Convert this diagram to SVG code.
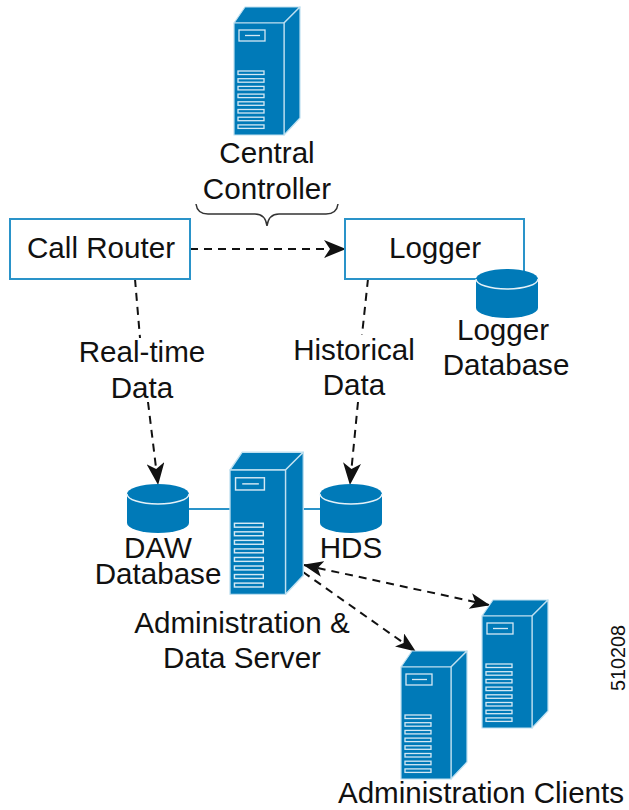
<svg xmlns="http://www.w3.org/2000/svg" width="629" height="810" viewBox="0 0 629 810">
<style>
text{font-family:"Liberation Sans",Arial,sans-serif;font-size:29.600px;fill:#111;text-anchor:middle}
.box{fill:#fff;stroke:#2a93c9;stroke-width:2}
.link{stroke:#2a93c9;stroke-width:2;fill:none}
.dash{stroke:#111;stroke-width:2;fill:none;stroke-dasharray:8 6}
.body{fill:#007ab8;stroke:#bfe0f0;stroke-width:1.200;stroke-linejoin:round}
.trim{fill:none;stroke:#d4e9f4;stroke-width:1.300}
</style>
<defs>
<symbol id="server" overflow="visible" viewBox="0 0 1 1" width="1" height="1">
<path class="body" d="M0 0L11-16H66L50 0Z"/>
<path class="body" d="M50 0L66-16V95L50 112Z"/>
<path class="body" d="M0 0H50V112H0Z"/>
<rect class="trim" x="5" y="7" width="26" height="11"/>
<path class="trim" d="M11 12.500H26"/>
<g class="trim">
<rect x="4" y="48" width="26" height="3.500"/>
<rect x="4" y="55.700" width="26" height="3.500"/>
<rect x="4" y="63.400" width="26" height="3.500"/>
<rect x="4" y="71.100" width="26" height="3.500"/>
<rect x="4" y="78.800" width="26" height="3.500"/>
<rect x="4" y="86.500" width="26" height="3.500"/>
<rect x="4" y="94.200" width="26" height="3.500"/>
<rect x="4" y="101.900" width="26" height="3.500"/>
</g>
</symbol>
<symbol id="cyl" overflow="visible" viewBox="0 0 1 1" width="1" height="1">
<path d="M0 10A31 10 0 0 1 62 10V39A31 10 0 0 1 0 39Z" fill="#007ab8"/>
<path d="M0 10A31 10 0 0 0 62 10" fill="none" stroke="#e4f1f8" stroke-width="1.500"/>
</symbol>
<marker id="head" markerUnits="userSpaceOnUse" markerWidth="22" markerHeight="18" refX="21" refY="9" orient="auto" viewBox="0 0 22 18">
<path d="M0 0L22 9L0 18L6 9Z" fill="#111"/>
</marker>
<marker id="small" markerUnits="userSpaceOnUse" markerWidth="20" markerHeight="16" refX="19" refY="8" orient="auto-start-reverse" viewBox="0 0 20 16">
<path d="M0 0L20 8L0 16L5 8Z" fill="#111"/>
</marker>
</defs>

<g id="connectors">
<path class="link" d="M189 509H231M303 509H321"/>
<path class="dash" d="M190 249H345" marker-end="url(#head)"/>
<path class="dash" d="M135 279L140 338"/>
<path class="dash" d="M148 402L158 484" marker-end="url(#head)"/>
<path class="dash" d="M368 279L362 335"/>
<path class="dash" d="M358 402L350 484" marker-end="url(#head)"/>
<path class="dash" d="M304 565L489 605" marker-start="url(#small)" marker-end="url(#small)"/>
<path class="dash" d="M303 572L415 651" marker-end="url(#small)"/>
<path d="M196 204C197 212 202 214 208 214H255C262 214 266 218 267 226C268 218 272 214 279 214H326C332 214 337 212 338 204" fill="none" stroke="#333" stroke-width="1.500"/>
</g>

<g id="central-controller">
<use href="#server" x="234" y="23"/>
<text x="267" y="163">Central</text>
<text x="267" y="199">Controller</text>
</g>
<g id="call-router">
<rect class="box" x="10" y="219" width="180" height="60"/>
<text x="101" y="258">Call Router</text>
</g>
<g id="logger">
<rect class="box" x="345" y="219" width="179" height="60"/>
<text x="435" y="258">Logger</text>
</g>
<g id="logger-database">
<use href="#cyl" x="476" y="269"/>
<text x="503" y="340">Logger</text>
<text x="506" y="375">Database</text>
</g>
<g id="real-time-data">
<text x="142" y="362">Real-time</text>
<text x="142" y="398">Data</text>
</g>
<g id="historical-data">
<text x="354" y="360">Historical</text>
<text x="354" y="395">Data</text>
</g>
<g id="daw-database">
<use href="#cyl" x="127" y="484"/>
<text x="158" y="558">DAW</text>
<text x="158" y="584">Database</text>
</g>
<g id="hds">
<use href="#cyl" x="320" y="484"/>
<text x="351" y="558">HDS</text>
</g>
<g id="admin-data-server">
<use href="#server" transform="translate(230 470) scale(1.110)"/>
<text x="242" y="633">Administration &amp;</text>
<text x="242" y="668">Data Server</text>
</g>
<g id="client-1">
<use href="#server" x="482" y="616"/>
</g>
<g id="client-2">
<use href="#server" x="401" y="667"/>
</g>
<text x="481" y="803">Administration Clients</text>
<text transform="translate(624.500 691) rotate(-90)" style="font-size:19.800px;text-anchor:start">510208</text>
</svg>
